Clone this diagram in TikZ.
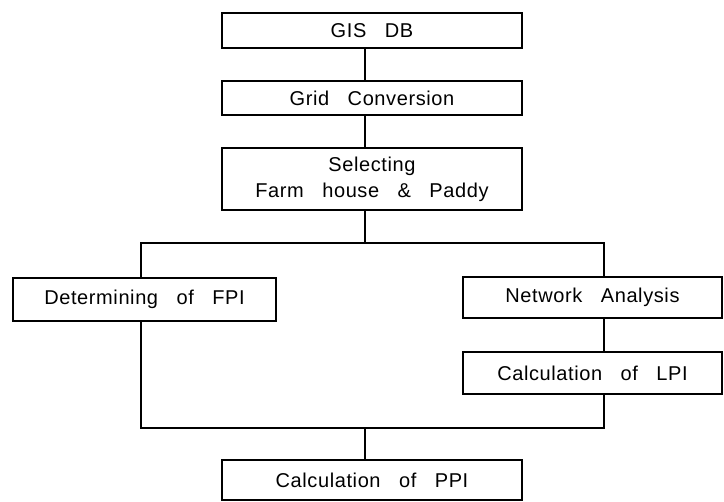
\documentclass[tikz,border=0pt]{standalone}
\usepackage{fontspec}
\setmainfont{Liberation Sans}[LetterSpace=3,WordSpace=3]
\begin{document}
\begin{tikzpicture}[x=1pt,y=-1pt,
  box/.style={draw,line width=1.8pt,inner sep=0pt,align=center,font=\fontsize{20}{26}\selectfont},
  link/.style={line width=1.8pt}]
\useasboundingbox (0,0) rectangle (724,502);
\node[box,minimum width=300pt,minimum height=35pt] (gis) at (372,30.5) {GIS DB};
\node[box,minimum width=300pt,minimum height=34pt] (grid) at (372,98) {Grid Conversion};
\node[box,minimum width=300pt,minimum height=62pt] (sel) at (372,179) {Selecting\\Farm house \& Paddy};
\node[box,minimum width=263pt,minimum height=43pt] (fpi) at (144.5,299.5) {Determining of FPI};
\node[box,minimum width=259pt,minimum height=41pt] (net) at (592.5,297.5) {Network Analysis};
\node[box,minimum width=259pt,minimum height=42pt] (lpi) at (592.5,373) {Calculation of LPI};
\node[box,minimum width=300pt,minimum height=40pt] (ppi) at (372,480) {Calculation of PPI};
\coordinate (j1) at (365,243);
\coordinate (l1) at (141,243);
\coordinate (r1) at (604,243);
\coordinate (j2) at (365,428);
\coordinate (l2) at (141,428);
\coordinate (r2) at (604,428);
\draw[link] (j1 |- gis.south) -- (j1 |- grid.north);
\draw[link] (j1 |- grid.south) -- (j1 |- sel.north);
\draw[link] (j1 |- sel.south) -- (j1);
\draw[link] (l1 |- fpi.north) -- (l1) -- (r1) -- (r1 |- net.north);
\draw[link] (r1 |- net.south) -- (r1 |- lpi.north);
\draw[link] (l2 |- fpi.south) -- (l2) -- (r2) -- (r2 |- lpi.south);
\draw[link] (j2) -- (j2 |- ppi.north);
\end{tikzpicture}
\end{document}
